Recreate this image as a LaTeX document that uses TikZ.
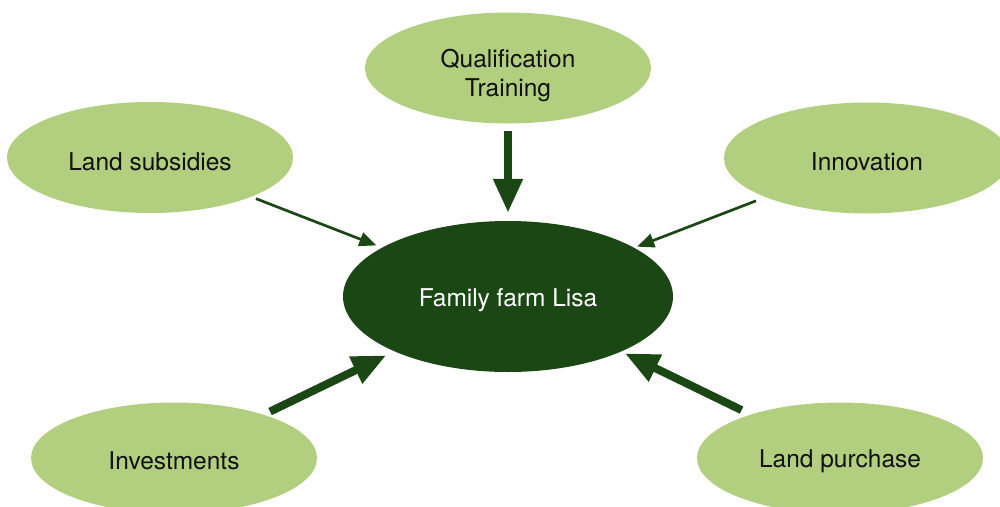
\documentclass[tikz,border=0pt]{standalone}
\usepackage{fontspec}
\setmainfont{TeX Gyre Heros}
\usetikzlibrary{shapes.geometric,arrows.meta}
\definecolor{darkgreen}{HTML}{1B4715}
\definecolor{lightgreen}{HTML}{B1CF7E}
\definecolor{txt}{HTML}{111111}
\newcommand\lowertext[2]{\raisebox{-#1}[\height][\depth]{#2}}
\tikzset{
  leaf/.style={ellipse, fill=lightgreen, draw=none, inner sep=0pt,
    minimum width=286pt, minimum height=111pt, text=txt, align=center,
    font=\fontsize{24.5}{29}\selectfont},
  hub/.style={ellipse, fill=darkgreen, draw=none, inner sep=0pt,
    minimum width=330pt, minimum height=151pt, text=white,
    font=\fontsize{24.5}{29}\selectfont},
  thinarrow/.style={draw=darkgreen, line width=2.7pt,
    -{Triangle[length=17pt,width=14pt]}},
  thickarrow/.style={draw=darkgreen, line width=8pt,
    -{Triangle[length=34pt,width=28pt]}}
}
\begin{document}
\begin{tikzpicture}[x=1pt,y=-1pt]
\useasboundingbox (0,0) rectangle (1000,506);
\node[leaf] (q) at (508,68) {\lowertext{8pt}{\begin{tabular}{@{}c@{}}Qualification\\Training\end{tabular}}};
\node[leaf] (s) at (150,157.5) {\lowertext{4pt}{Land subsidies}};
\node[leaf] (i) at (867,158) {\lowertext{4pt}{Innovation}};
\node[leaf] (v) at (174,458) {\lowertext{3pt}{Investments}};
\node[leaf] (p) at (840,458) {\lowertext{3pt}{Land purchase}};
\node[hub] (f) at (508,296.5) {\lowertext{4pt}{Family farm Lisa}};
\draw[thickarrow, shorten <=7pt, shorten >=8pt] (q.south) -- (f.north);
\draw[thinarrow, shorten <=5pt, shorten >=6pt] (s) -- (f);
\draw[thinarrow, shorten <=10pt, shorten >=3pt] (i) -- (f);
\draw[thickarrow, shorten <=7pt, shorten >=9pt] (v) -- (f);
\draw[thickarrow, shorten <=10pt, shorten >=4pt] (p) -- (f);
\end{tikzpicture}
\end{document}
